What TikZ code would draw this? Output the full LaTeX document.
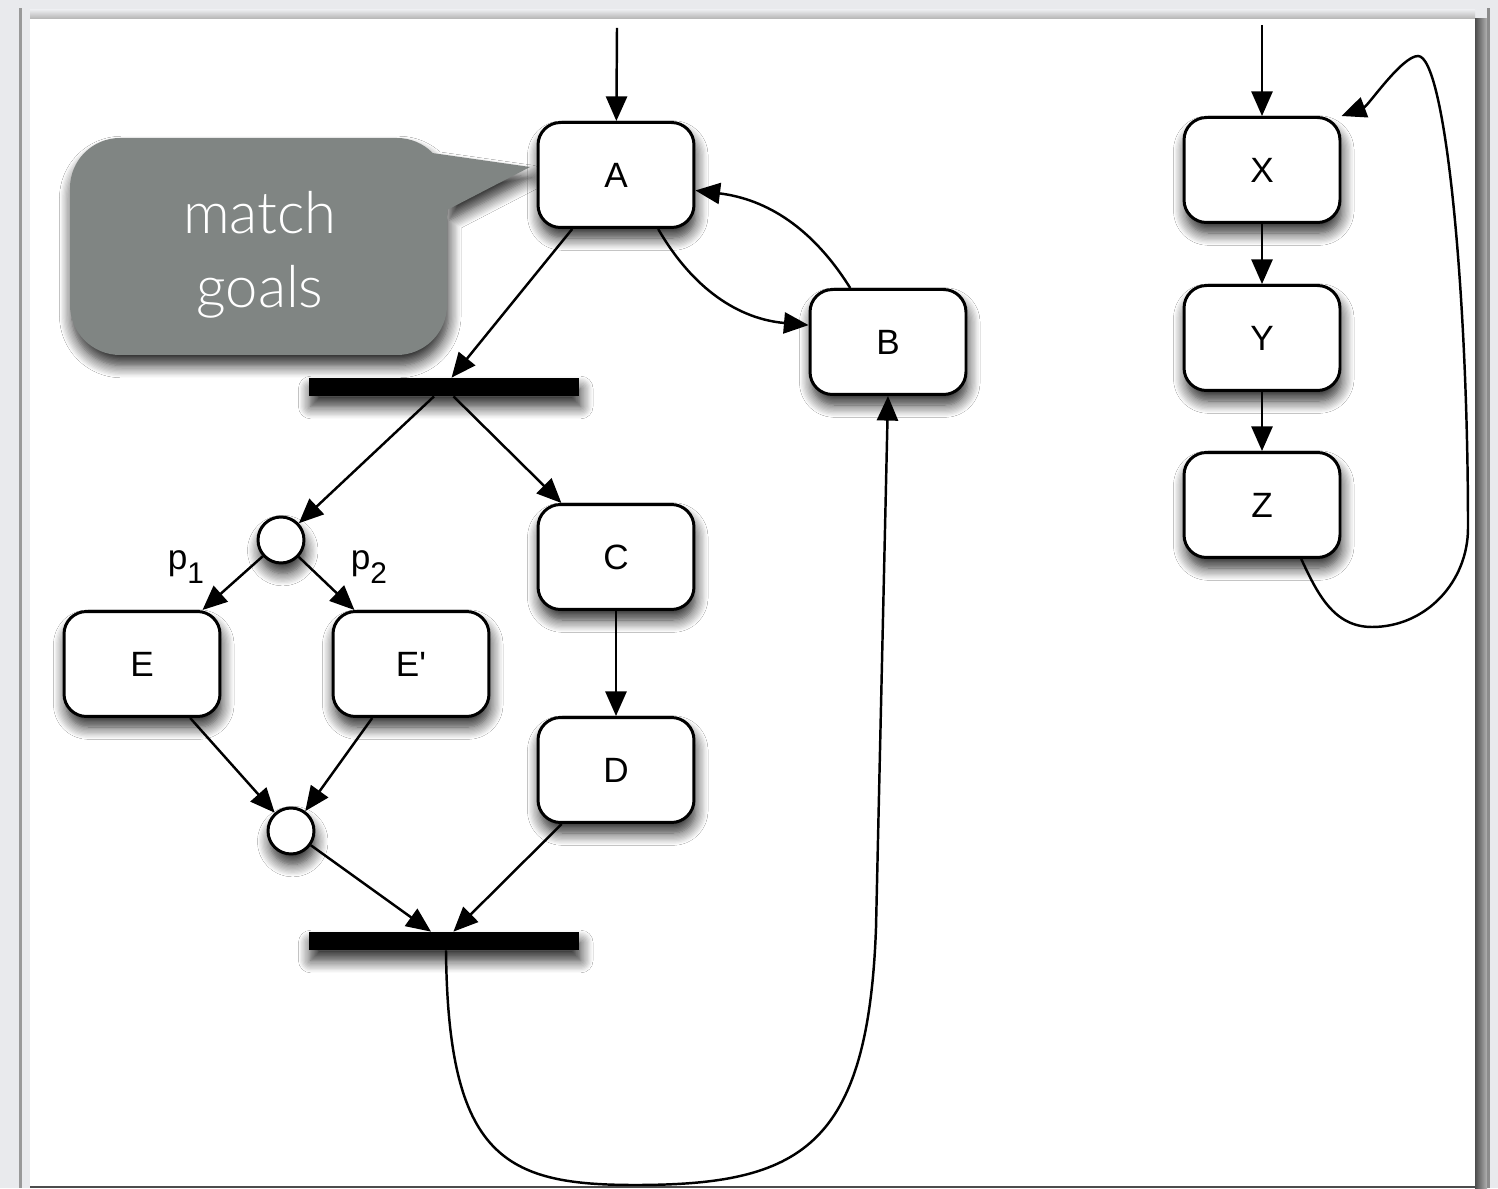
\documentclass[tikz,border=0pt]{standalone}
\usepackage{fontspec}
\setmainfont{Liberation Sans}
\newfontfamily\bubblefont{Lato Light}
\usetikzlibrary{arrows.meta,shadows.blur}

\definecolor{bubblegray}{RGB}{128,133,131}
\definecolor{deskgray}{RGB}{233,234,237}

% lowered index, as in p1 / p2
\newcommand\lowidx[1]{\raisebox{-8pt}{\fontsize{17}{17}\selectfont #1}}

\tikzset{
    soft shadow/.style={
        blur shadow={shadow xshift=1pt,shadow yshift=-6pt,
            shadow blur radius=7pt,shadow blur steps=10,shadow opacity=85}
    },
    state box/.style={
        draw,line width=1.7pt,rounded corners=.45cm,
        fill=white,
        minimum width=3.12cm,minimum height=2.1cm,
        font=\fontsize{20}{24}\selectfont,
        soft shadow
    },
    sync bar/.style={
        fill=black,inner sep=0pt,
        minimum width=5.4cm,minimum height=.36cm,
        soft shadow
    },
    choice/.style={
        circle,draw,line width=1.7pt,fill=white,
        inner sep=0pt,minimum size=.92cm,
        soft shadow
    },
    branch label/.style={font=\fontsize{20}{24}\selectfont},
    flow/.style={->,line width=1.4pt}
}

\begin{document}
\begin{tikzpicture}[x=.02cm,y=.02cm,
        >={Triangle[length=14pt,width=12pt,fill=black]}]
        \useasboundingbox (0,0) rectangle (1498,1188);
        % page frame
        \fill[deskgray] (0,0) rectangle (1498,1188);
        \fill[black!40] (18.5,0) rectangle (21.5,1180);
        \shade[top color=deskgray,bottom color=black!30] (30,1178) rectangle (1475,1169);
        \fill[white] (30,0) rectangle (1475,1169);
        \shade[left color=black!70,right color=black!30] (1475,0) rectangle (1487,1169);
        \fill[black!45] (1487,0) rectangle (1490,1180);
        \fill[black!70] (30,0) rectangle (1475,2);

        % speech bubble
        \coordinate (tip) at (530,1021);
        \fill[bubblegray,soft shadow] (70,833) [rounded corners=1cm] rectangle (447,1050)
            [sharp corners] (425,1036) -- (tip) -- (447,978) -- cycle;
        \node[font=\bubblefont\fontsize{33}{42}\selectfont,text=white,align=center]
            (goals) at (260,933) {match\\goals};

        % left net
        \node[state box] (A) at (616,1013) {A};
        \node[state box] (B) at (888,846) {B};
        \node[state box] (C) at (616,631) {C};
        \node[state box] (D) at (616,418) {D};
        \node[state box] (E) at (142,524) {E};
        \node[state box] (Eprime) at (411,524) {E\textquotesingle};
        \node[sync bar] (fork) at (444,801) {};
        \node[sync bar] (join) at (444,247) {};
        \node[choice] (split) at (281,648) {};
        \node[choice] (merge) at (291,357) {};
        \node[branch label] (p1) at (186,621) {p\lowidx{1}};
        \node[branch label] (p2) at (369,621) {p\lowidx{2}};
        \coordinate (startA) at (617,1160);

        \draw[flow] (startA) -- (A);
        \draw[flow] (A) -- (fork);
        \draw[flow] (A.-52) to[out=-60,in=175] (B.168);
        \draw[flow] (B.125) to[out=122,in=-7] (A.-11);
        \draw[flow] (fork) -- (split);
        \draw[flow] (fork) -- (C);
        \draw[flow] (split) -- (E);
        \draw[flow] (split) -- (Eprime);
        \draw[flow] (C) -- (D);
        \draw[flow] (E) -- (merge);
        \draw[flow] (Eprime) -- (merge);
        \draw[flow] (merge) -- (join);
        \draw[flow] (D) -- (join);
        \draw[flow] ([xshift=.04cm]join.south) .. controls (448,30) and (505,3) .. (635,3)
            .. controls (800,3) and (868,40) .. (876,260) -- (B.south);

        % right loop
        \node[state box] (X) at (1262,1018) {X};
        \node[state box] (Y) at (1262,850) {Y};
        \node[state box] (Z) at (1262,683) {Z};
        \coordinate (startX) at (1262,1163);

        \draw[flow] (startX) -- (X);
        \draw[flow] (X) -- (Y);
        \draw[flow] (Y) -- (Z);
        \draw[flow] (Z.-54) to[out=-65,in=180] (1372,561) to[out=0,in=-90] (1468,660)
            .. controls (1468,900) and (1445,1132) .. (1418,1132)
            .. controls (1402,1132) and (1368,1082) .. (X.north east);
\end{tikzpicture}
\end{document}
